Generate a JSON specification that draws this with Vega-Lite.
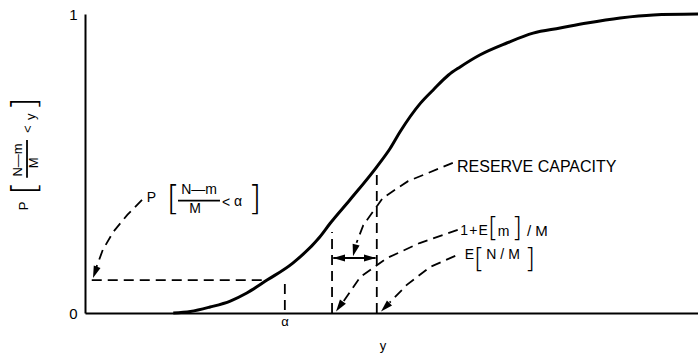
{
  "$schema": "https://vega.github.io/schema/vega-lite/v6.json",
  "width": 613,
  "height": 299,
  "autosize": {"type": "none"},
  "padding": {"left": 85, "top": 14, "right": 0, "bottom": 41},
  "background": "white",
  "config": {
    "view": {"stroke": null},
    "font": "Liberation Sans",
    "text": {"font": "Liberation Sans", "color": "black"},
    "line": {"color": "black"},
    "point": {"color": "black"}
  },
  "datasets": {
    "cdf": [
      {"v": 0.144, "p": 0.0},
      {"v": 0.172, "p": 0.005},
      {"v": 0.204, "p": 0.02},
      {"v": 0.237, "p": 0.04},
      {"v": 0.264, "p": 0.067},
      {"v": 0.297, "p": 0.11},
      {"v": 0.339, "p": 0.167},
      {"v": 0.383, "p": 0.254},
      {"v": 0.4, "p": 0.3},
      {"v": 0.432, "p": 0.378},
      {"v": 0.476, "p": 0.489},
      {"v": 0.498, "p": 0.551},
      {"v": 0.514, "p": 0.606},
      {"v": 0.547, "p": 0.701},
      {"v": 0.568, "p": 0.746},
      {"v": 0.593, "p": 0.796},
      {"v": 0.612, "p": 0.823},
      {"v": 0.644, "p": 0.863},
      {"v": 0.688, "p": 0.903},
      {"v": 0.731, "p": 0.936},
      {"v": 0.775, "p": 0.953},
      {"v": 0.819, "p": 0.97},
      {"v": 0.873, "p": 0.987},
      {"v": 0.927, "p": 0.997},
      {"v": 1.0, "p": 1.0}
    ],
    "guides": [
      {"id": "alphaLevel", "o": 1, "x": 0.011, "y": 0.11},
      {"id": "alphaLevel", "o": 2, "x": 0.29, "y": 0.11},
      {"id": "alphaDrop", "o": 1, "x": 0.326, "y": 0.01},
      {"id": "alphaDrop", "o": 2, "x": 0.326, "y": 0.1},
      {"id": "meanDemand", "o": 1, "x": 0.403, "y": 0.0},
      {"id": "meanDemand", "o": 2, "x": 0.403, "y": 0.271},
      {"id": "meanSupply", "o": 1, "x": 0.476, "y": 0.0},
      {"id": "meanSupply", "o": 2, "x": 0.476, "y": 0.467},
      {"id": "pLeader", "o": 1, "x": 0.093, "y": 0.378},
      {"id": "pLeader", "o": 2, "x": 0.069, "y": 0.328},
      {"id": "pLeader", "o": 3, "x": 0.046, "y": 0.271},
      {"id": "pLeader", "o": 4, "x": 0.029, "y": 0.211},
      {"id": "pLeader", "o": 5, "x": 0.018, "y": 0.15},
      {"id": "reserveLeader", "o": 1, "x": 0.6, "y": 0.502},
      {"id": "reserveLeader", "o": 2, "x": 0.527, "y": 0.441},
      {"id": "reserveLeader", "o": 3, "x": 0.486, "y": 0.385},
      {"id": "reserveLeader", "o": 4, "x": 0.454, "y": 0.294},
      {"id": "reserveLeader", "o": 5, "x": 0.443, "y": 0.235},
      {"id": "demandLeader", "o": 1, "x": 0.608, "y": 0.278},
      {"id": "demandLeader", "o": 2, "x": 0.546, "y": 0.234},
      {"id": "demandLeader", "o": 3, "x": 0.493, "y": 0.184},
      {"id": "demandLeader", "o": 4, "x": 0.449, "y": 0.12},
      {"id": "demandLeader", "o": 5, "x": 0.422, "y": 0.04},
      {"id": "supplyLeader", "o": 1, "x": 0.604, "y": 0.191},
      {"id": "supplyLeader", "o": 2, "x": 0.563, "y": 0.154},
      {"id": "supplyLeader", "o": 3, "x": 0.525, "y": 0.094},
      {"id": "supplyLeader", "o": 4, "x": 0.497, "y": 0.035}
    ],
    "solids": [
      {"id": "reserveSpan", "x": 0.405, "y": 0.184},
      {"id": "reserveSpan", "x": 0.474, "y": 0.184},
      {"id": "pFraction", "x": 0.1517, "y": 0.3756},
      {"id": "pFraction", "x": 0.2202, "y": 0.3756},
      {"id": "titleFraction", "x": -0.0946, "y": 0.452},
      {"id": "titleFraction", "x": -0.0946, "y": 0.579}
    ],
    "heads": [
      {"x": 0.0131, "y": 0.117, "heading": 200},
      {"x": 0.4372, "y": 0.19, "heading": 195},
      {"x": 0.4095, "y": 0.005, "heading": 215},
      {"x": 0.4829, "y": 0.005, "heading": 225},
      {"x": 0.4046, "y": 0.184, "heading": 270},
      {"x": 0.4747, "y": 0.184, "heading": 90}
    ],
    "calloutText": [
      {"x": 0.6346, "y": 0.274, "t": "1\u200a+\u200aE"},
      {"x": 0.683, "y": 0.271, "t": "m"},
      {"x": 0.6272, "y": 0.194, "t": "E"},
      {"x": 0.682, "y": 0.194, "t": "N / M"},
      {"x": 0.1085, "y": 0.386, "t": "P"},
      {"x": 0.186, "y": 0.411, "t": "N—m"},
      {"x": 0.1794, "y": 0.348, "t": "M"},
      {"x": 0.23, "y": 0.368, "t": "<"},
      {"x": 0.2496, "y": 0.37, "t": "α"}
    ],
    "calloutBrackets": [
      {"x": 0.6656, "y": 0.284, "t": "["},
      {"x": 0.7047, "y": 0.284, "t": "]"},
      {"x": 0.6427, "y": 0.181, "t": "["},
      {"x": 0.726, "y": 0.181, "t": "]"}
    ],
    "bigBrackets": [
      {"x": 0.1436, "y": 0.378, "t": "["},
      {"x": 0.2773, "y": 0.378, "t": "]"}
    ],
    "titleGlyphs": [
      {"x": -0.0987, "y": 0.358, "t": "P"},
      {"x": -0.1085, "y": 0.512, "t": "N—m"},
      {"x": -0.0835, "y": 0.502, "t": "M"},
      {"x": -0.0922, "y": 0.615, "t": "<"},
      {"x": -0.0881, "y": 0.656, "t": "y"}
    ],
    "titleBrackets": [
      {"x": -0.0962, "y": 0.418, "t": "["},
      {"x": -0.0962, "y": 0.699, "t": "]"}
    ],
    "axisNotes": [
      {"x": 0.3263, "y": -0.03, "t": "α"},
      {"x": 0.486, "y": -0.112, "t": "y"}
    ]
  },
  "layer": [
    {
      "data": {"name": "cdf"},
      "mark": {"type": "line", "strokeWidth": 3, "interpolate": "monotone"},
      "encoding": {
        "x": {
          "field": "v", "type": "quantitative",
          "scale": {"domain": [0, 1], "nice": false, "zero": false},
          "axis": {"domain": true, "domainColor": "black", "domainWidth": 2, "ticks": false, "labels": false, "grid": false, "title": null}
        },
        "y": {
          "field": "p", "type": "quantitative",
          "scale": {"domain": [0, 1], "nice": false, "zero": false},
          "axis": {"values": [0, 1], "format": "d", "domain": true, "domainColor": "black", "domainWidth": 2, "ticks": false, "grid": false, "title": null, "labelFontSize": 15, "labelPadding": 8, "labelColor": "black", "labelFont": "Liberation Sans"}
        }
      }
    },
    {
      "mark": {"type": "rule", "strokeWidth": 2, "color": "black"},
      "encoding": {
        "y": {"datum": 1, "type": "quantitative", "scale": {"domain": [0, 1], "nice": false, "zero": false}}
      }
    },
    {
      "data": {"name": "guides"},
      "mark": {"type": "line", "strokeWidth": 1.8, "strokeDash": [10, 6]},
      "encoding": {
        "x": {"field": "x", "type": "quantitative", "scale": {"domain": [0, 1], "nice": false, "zero": false}},
        "y": {"field": "y", "type": "quantitative", "scale": {"domain": [0, 1], "nice": false, "zero": false}},
        "detail": {"field": "id"},
        "order": {"field": "o"}
      }
    },
    {
      "data": {"name": "solids"},
      "mark": {"type": "line", "strokeWidth": 1.8},
      "encoding": {
        "x": {"field": "x", "type": "quantitative", "scale": {"domain": [0, 1], "nice": false, "zero": false}},
        "y": {"field": "y", "type": "quantitative", "scale": {"domain": [0, 1], "nice": false, "zero": false}},
        "detail": {"field": "id"}
      }
    },
    {
      "data": {"name": "heads"},
      "mark": {"type": "point", "shape": "M0,0L-0.3,1L0.3,1Z", "filled": true, "size": 576, "opacity": 1},
      "encoding": {
        "x": {"field": "x", "type": "quantitative", "scale": {"domain": [0, 1], "nice": false, "zero": false}},
        "y": {"field": "y", "type": "quantitative", "scale": {"domain": [0, 1], "nice": false, "zero": false}},
        "angle": {"field": "heading", "type": "quantitative", "scale": null}
      }
    },
    {
      "data": {"values": [{"x": 0.6069, "y": 0.488, "t": "RESERVE CAPACITY"}]},
      "mark": {"type": "text", "fontSize": 16, "align": "left", "baseline": "middle"},
      "encoding": {
        "x": {"field": "x", "type": "quantitative", "scale": {"domain": [0, 1], "nice": false, "zero": false}},
        "y": {"field": "y", "type": "quantitative", "scale": {"domain": [0, 1], "nice": false, "zero": false}},
        "text": {"field": "t"}
      }
    },
    {
      "data": {"values": [{"x": 0.721, "y": 0.274, "t": "/ M"}]},
      "mark": {"type": "text", "fontSize": 15, "align": "left", "baseline": "middle"},
      "encoding": {
        "x": {"field": "x", "type": "quantitative", "scale": {"domain": [0, 1], "nice": false, "zero": false}},
        "y": {"field": "y", "type": "quantitative", "scale": {"domain": [0, 1], "nice": false, "zero": false}},
        "text": {"field": "t"}
      }
    },
    {
      "data": {"name": "calloutText"},
      "mark": {"type": "text", "fontSize": 14, "align": "center", "baseline": "middle"},
      "encoding": {
        "x": {"field": "x", "type": "quantitative", "scale": {"domain": [0, 1], "nice": false, "zero": false}},
        "y": {"field": "y", "type": "quantitative", "scale": {"domain": [0, 1], "nice": false, "zero": false}},
        "text": {"field": "t"}
      }
    },
    {
      "data": {"name": "calloutBrackets"},
      "mark": {"type": "text", "font": "DejaVu Sans", "fontWeight": 200, "fontSize": 27, "align": "center", "baseline": "middle"},
      "encoding": {
        "x": {"field": "x", "type": "quantitative", "scale": {"domain": [0, 1], "nice": false, "zero": false}},
        "y": {"field": "y", "type": "quantitative", "scale": {"domain": [0, 1], "nice": false, "zero": false}},
        "text": {"field": "t"}
      }
    },
    {
      "data": {"name": "bigBrackets"},
      "mark": {"type": "text", "font": "DejaVu Sans", "fontWeight": 200, "fontSize": 34, "align": "center", "baseline": "middle"},
      "encoding": {
        "x": {"field": "x", "type": "quantitative", "scale": {"domain": [0, 1], "nice": false, "zero": false}},
        "y": {"field": "y", "type": "quantitative", "scale": {"domain": [0, 1], "nice": false, "zero": false}},
        "text": {"field": "t"}
      }
    },
    {
      "data": {"name": "titleGlyphs"},
      "mark": {"type": "text", "fontSize": 13, "align": "center", "baseline": "middle", "angle": 270},
      "encoding": {
        "x": {"field": "x", "type": "quantitative", "scale": {"domain": [0, 1], "nice": false, "zero": false}},
        "y": {"field": "y", "type": "quantitative", "scale": {"domain": [0, 1], "nice": false, "zero": false}},
        "text": {"field": "t"}
      }
    },
    {
      "data": {"name": "titleBrackets"},
      "mark": {"type": "text", "font": "DejaVu Sans", "fontWeight": 200, "fontSize": 34, "align": "center", "baseline": "middle", "angle": 270},
      "encoding": {
        "x": {"field": "x", "type": "quantitative", "scale": {"domain": [0, 1], "nice": false, "zero": false}},
        "y": {"field": "y", "type": "quantitative", "scale": {"domain": [0, 1], "nice": false, "zero": false}},
        "text": {"field": "t"}
      }
    },
    {
      "data": {"name": "axisNotes"},
      "mark": {"type": "text", "fontSize": 13, "align": "center", "baseline": "middle"},
      "encoding": {
        "x": {"field": "x", "type": "quantitative", "scale": {"domain": [0, 1], "nice": false, "zero": false}},
        "y": {"field": "y", "type": "quantitative", "scale": {"domain": [0, 1], "nice": false, "zero": false}},
        "text": {"field": "t"}
      }
    }
  ]
}
